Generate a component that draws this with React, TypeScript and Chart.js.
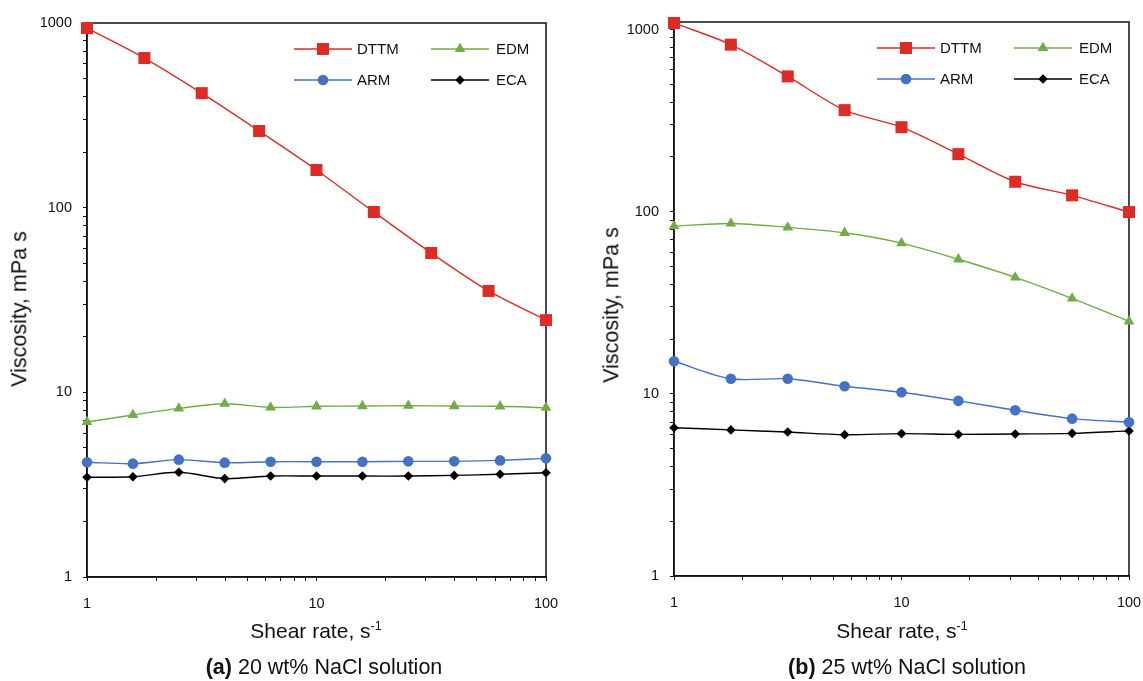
import React, { useEffect, useRef } from 'react';
import { Chart, registerables } from 'chart.js';

Chart.register(...registerables);

const FONT = "'Liberation Sans', Arial, Helvetica, sans-serif";

// Shear rates (s^-1)
const SHEAR_9 = [1, 1.778, 3.162, 5.623, 10, 17.78, 31.62, 56.23, 100];
const SHEAR_11 = [1, 1.585, 2.512, 3.981, 6.31, 10, 15.85, 25.12, 39.81, 63.1, 100];

// (a) 20 wt% NaCl
const A_DTTM = [938, 646, 417, 260, 160, 94.7, 56.8, 35.4, 24.6];
const A_EDM = [6.91, 7.54, 8.19, 8.68, 8.29, 8.4, 8.43, 8.46, 8.43, 8.4, 8.25];
const A_ARM = [4.18, 4.11, 4.32, 4.16, 4.21, 4.21, 4.21, 4.23, 4.23, 4.28, 4.39];
const A_ECA = [3.47, 3.49, 3.69, 3.41, 3.52, 3.52, 3.52, 3.52, 3.55, 3.6, 3.67];

// (b) 25 wt% NaCl
const B_DTTM = [1087, 826, 553, 361, 291, 207, 146, 123, 99.5];
const B_EDM = [83.3, 86.2, 82, 76.6, 67.2, 54.8, 43.6, 33.4, 25.0];
const B_ARM = [15.1, 12.1, 12.1, 11.0, 10.2, 9.15, 8.13, 7.31, 6.98];
const B_ECA = [6.52, 6.34, 6.17, 5.97, 6.05, 5.99, 6.02, 6.07, 6.26];

// Tick positions
const X_TICKS = [1, 2, 3, 4, 5, 6, 7, 8, 9, 10, 20, 30, 40, 50, 60, 70, 80, 90, 100];
const Y_TICKS = [
  1, 2, 3, 4, 5, 6, 7, 8, 9,
  10, 20, 30, 40, 50, 60, 70, 80, 90,
  100, 200, 300, 400, 500, 600, 700, 800, 900,
  1000,
];

const SERIES_NAMES = ['DTTM', 'EDM', 'ARM', 'ECA'];
const SERIES_COLORS = ['#DF2B25', '#70AD47', '#4472C4', '#000000'];
const SERIES_STYLES = ['rect', 'triangle', 'circle', 'rectRot'];
const SERIES_RADII = [8.5, 6.2, 5.3, 4.8];

function drawMarker(ctx: CanvasRenderingContext2D, style: string, x: number, y: number, r: number, color: string) {
  ctx.save();
  ctx.fillStyle = color;
  ctx.beginPath();
  if (style === 'rect') {
    const s = Math.SQRT1_2 * r;
    ctx.rect(x - s, y - s, 2 * s, 2 * s);
  } else if (style === 'circle') {
    ctx.arc(x, y, r, 0, Math.PI * 2);
  } else if (style === 'triangle') {
    let rad = 0;
    ctx.moveTo(x + Math.sin(rad) * r, y - Math.cos(rad) * r);
    rad += (2 * Math.PI) / 3;
    ctx.lineTo(x + Math.sin(rad) * r, y - Math.cos(rad) * r);
    rad += (2 * Math.PI) / 3;
    ctx.lineTo(x + Math.sin(rad) * r, y - Math.cos(rad) * r);
    ctx.closePath();
  } else {
    ctx.moveTo(x, y - r);
    ctx.lineTo(x + r, y);
    ctx.lineTo(x, y + r);
    ctx.lineTo(x - r, y);
    ctx.closePath();
  }
  ctx.fill();
  ctx.restore();
}

const framePlugin = {
  id: 'frame',
  beforeDatasetsDraw(chart: any) {
    const { ctx, chartArea } = chart;
    ctx.save();
    ctx.strokeStyle = '#111';
    ctx.lineWidth = 1.5;
    ctx.strokeRect(chartArea.left, chartArea.top, chartArea.right - chartArea.left, chartArea.bottom - chartArea.top);
    ctx.restore();
  },
};

const legendPlugin = {
  id: 'innerLegend',
  afterDatasetsDraw(chart: any) {
    const { ctx, chartArea } = chart;
    const cols = [
      { ls: -252, le: -194, m: -223, t: -189 },
      { ls: -115, le: -57, m: -86, t: -50 },
    ];
    const rows = [26, 57];
    chart.data.datasets.forEach((ds: any, i: number) => {
      const c = cols[i % 2];
      const y = chartArea.top + rows[Math.floor(i / 2)];
      const r = chartArea.right;
      ctx.save();
      ctx.strokeStyle = ds.borderColor;
      ctx.lineWidth = 1.3;
      ctx.beginPath();
      ctx.moveTo(r + c.ls, y);
      ctx.lineTo(r + c.le, y);
      ctx.stroke();
      drawMarker(ctx, ds.pointStyle, r + c.m, y, ds.pointRadius, ds.backgroundColor);
      ctx.fillStyle = '#111';
      ctx.font = `15px ${FONT}`;
      ctx.textBaseline = 'middle';
      ctx.textAlign = 'left';
      ctx.fillText(ds.label, r + c.t, y + 0.5);
      ctx.restore();
    });
  },
};

function buildDatasets(xs: number[][], ys: number[][]) {
  return ys.map((vals, i) => ({
    label: SERIES_NAMES[i],
    data: vals.map((v, j) => ({ x: xs[i][j], y: v })),
    borderColor: SERIES_COLORS[i],
    backgroundColor: SERIES_COLORS[i],
    pointBackgroundColor: SERIES_COLORS[i],
    pointStyle: SERIES_STYLES[i],
    pointRadius: SERIES_RADII[i],
    pointHoverRadius: SERIES_RADII[i],
    pointBorderWidth: 0,
    borderWidth: 1.4,
    tension: 0.3,
    clip: false as any,
  }));
}

function logLabel(v: any) {
  const n = Number(v);
  const l = Math.log10(n);
  return Math.abs(l - Math.round(l)) < 1e-9 ? String(n) : '';
}

function makeConfig(datasets: any[], yMax: number, pad: { top: number; right: number }, yWidth: number, xHeight: number): any {
  return {
    type: 'line',
    data: { datasets },
    plugins: [framePlugin, legendPlugin],
    options: {
      responsive: false,
      animation: false,
      events: [],
      layout: { padding: { top: pad.top, right: pad.right, left: 0, bottom: 0 } },
      plugins: { legend: { display: false }, tooltip: { enabled: false }, title: { display: false } },
      scales: {
        x: {
          type: 'logarithmic',
          min: 1,
          max: 100,
          afterBuildTicks: (s: any) => {
            s.ticks = X_TICKS.map((v) => ({ value: v }));
          },
          afterFit: (s: any) => {
            s.height = xHeight;
            s.paddingLeft = 0;
            s.paddingRight = 0;
          },
          grid: { drawOnChartArea: false, drawTicks: true, tickLength: 4, color: '#111', tickColor: '#111', lineWidth: 1 },
          border: { display: true, color: '#111', width: 1.5 },
          ticks: {
            autoSkip: false,
            maxRotation: 0,
            minRotation: 0,
            padding: 14,
            color: '#111',
            font: { family: FONT, size: 14.5 },
            callback: logLabel,
          },
        },
        y: {
          type: 'logarithmic',
          min: 1,
          max: yMax,
          afterBuildTicks: (s: any) => {
            s.ticks = Y_TICKS.filter((v) => v <= yMax).map((v) => ({ value: v }));
          },
          afterFit: (s: any) => {
            s.width = yWidth;
            s.paddingTop = 0;
            s.paddingBottom = 0;
          },
          grid: { drawOnChartArea: false, drawTicks: true, tickLength: 4, color: '#111', tickColor: '#111', lineWidth: 1 },
          border: { display: true, color: '#111', width: 1.5 },
          ticks: {
            autoSkip: false,
            padding: 11,
            color: '#111',
            font: { family: FONT, size: 14.5 },
            callback: logLabel,
          },
        },
      },
    },
  };
}

function Panel(props: { left: number; width: number; config: any }) {
  const ref = useRef<HTMLCanvasElement>(null);
  useEffect(() => {
    if (!ref.current) return;
    const chart = new Chart(ref.current, props.config);
    return () => chart.destroy();
  }, []);
  return (
    <canvas
      ref={ref}
      width={props.width}
      height={681}
      style={{ position: 'absolute', left: props.left, top: 0, width: props.width, height: 681, display: 'block' }}
    />
  );
}

const textBase: React.CSSProperties = {
  position: 'absolute',
  fontFamily: FONT,
  color: '#111',
  whiteSpace: 'nowrap',
  lineHeight: 1,
  transform: 'translate(-50%, -50%)',
};

function XTitle({ x, y }: { x: number; y: number }) {
  return (
    <div style={{ ...textBase, left: x, top: y, fontSize: 21 }}>
      Shear rate, s
      <span style={{ fontSize: 12.5, position: 'relative', top: -8 }}>-1</span>
    </div>
  );
}

function YTitle({ x, y }: { x: number; y: number }) {
  return (
    <div style={{ ...textBase, left: x, top: y, fontSize: 21.5, transform: 'translate(-50%, -50%) rotate(-90deg)' }}>
      Viscosity, mPa s
    </div>
  );
}

function Caption({ x, y, tag, text }: { x: number; y: number; tag: string; text: string }) {
  return (
    <div style={{ ...textBase, left: x, top: y, fontSize: 21.5 }}>
      <b>{tag}</b> {text}
    </div>
  );
}

export default function App() {
  const configA = makeConfig(
    buildDatasets([SHEAR_9, SHEAR_11, SHEAR_11, SHEAR_11], [A_DTTM, A_EDM, A_ARM, A_ECA]),
    1000,
    { top: 23, right: 25 },
    87,
    104
  );
  const configB = makeConfig(
    buildDatasets([SHEAR_9, SHEAR_9, SHEAR_9, SHEAR_9], [B_DTTM, B_EDM, B_ARM, B_ECA]),
    1100,
    { top: 22, right: 14 },
    103,
    105
  );
  return (
    <div style={{ position: 'absolute', left: 0, top: 0, width: 1143, height: 681, background: '#fff', overflow: 'hidden' }}>
      <Panel left={0} width={571} config={configA} />
      <Panel left={571} width={572} config={configB} />
      <YTitle x={20} y={309} />
      <YTitle x={612} y={305} />
      <XTitle x={316} y={630} />
      <XTitle x={902} y={630} />
      <Caption x={324} y={668} tag="(a)" text="20 wt% NaCl solution" />
      <Caption x={907} y={668} tag="(b)" text="25 wt% NaCl solution" />
    </div>
  );
}
